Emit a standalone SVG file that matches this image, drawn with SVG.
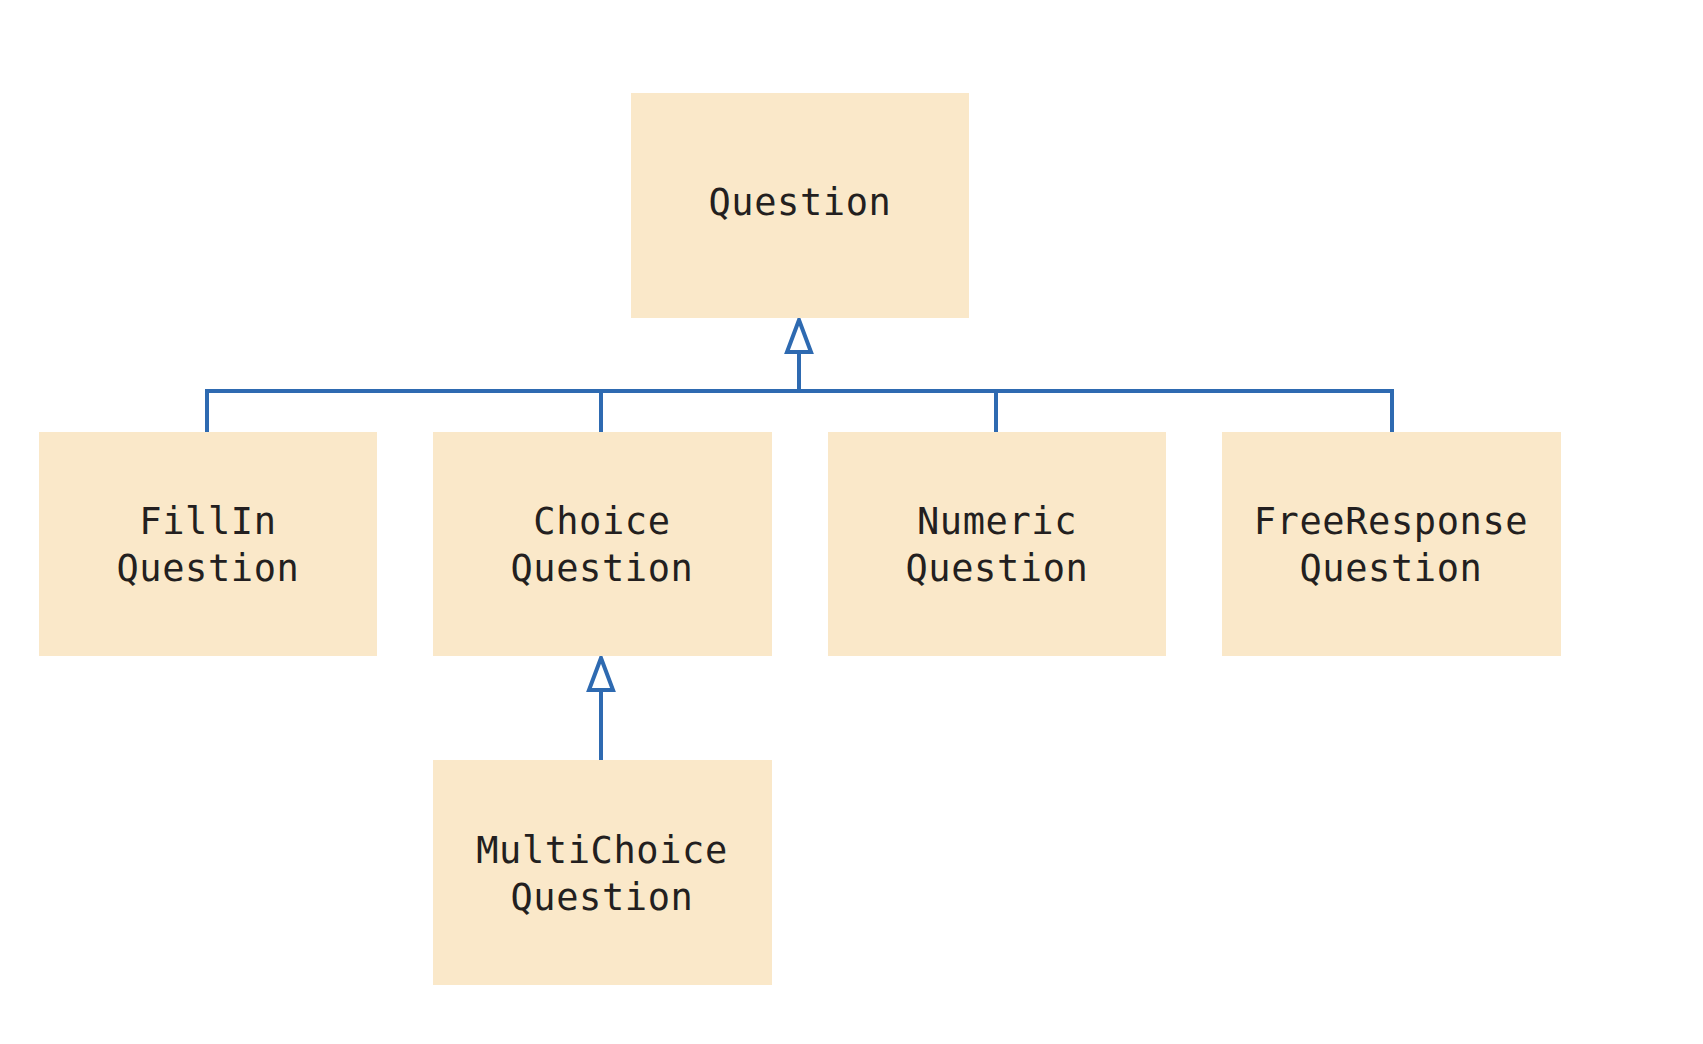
<svg xmlns="http://www.w3.org/2000/svg" width="1703" height="1044" viewBox="0 0 1703 1044">
  <style>
    .box { fill: #FAE8C9; }
    .label { font-family: "DejaVu Sans Mono", "Liberation Mono", monospace; font-size: 37px; letter-spacing: 0.6px; fill: #231F20; text-anchor: middle; }
    .wire { fill: none; stroke: #2E6AB1; stroke-width: 4; }
    .head { fill: #FFFFFF; stroke: #2E6AB1; stroke-width: 4; stroke-linejoin: miter; }
  </style>
  <rect width="1703" height="1044" fill="#FFFFFF"/>

  <g id="connectors">
    <!-- generalization bus from the four subclasses up to Question -->
    <polyline class="wire" points="207,432 207,391 1392,391 1392,432"/>
    <line class="wire" x1="601" y1="391" x2="601" y2="432"/>
    <line class="wire" x1="996" y1="391" x2="996" y2="432"/>
    <line class="wire" x1="799" y1="391" x2="799" y2="352"/>
    <polygon class="head" points="799,320 787,352 811,352"/>
    <!-- MultiChoiceQuestion to ChoiceQuestion -->
    <line class="wire" x1="601" y1="760" x2="601" y2="690"/>
    <polygon class="head" points="601,658 589,690 613,690"/>
  </g>

  <g id="question">
    <rect class="box" x="631" y="93" width="338" height="225"/>
    <text class="label" x="800" y="215">Question</text>
  </g>

  <g id="fillin-question">
    <rect class="box" x="39" y="432" width="338" height="224"/>
    <text class="label" x="208" y="534">FillIn</text>
    <text class="label" x="208" y="581">Question</text>
  </g>

  <g id="choice-question">
    <rect class="box" x="433" y="432" width="339" height="224"/>
    <text class="label" x="602" y="534">Choice</text>
    <text class="label" x="602" y="581">Question</text>
  </g>

  <g id="numeric-question">
    <rect class="box" x="828" y="432" width="338" height="224"/>
    <text class="label" x="997" y="534">Numeric</text>
    <text class="label" x="997" y="581">Question</text>
  </g>

  <g id="freeresponse-question">
    <rect class="box" x="1222" y="432" width="339" height="224"/>
    <text class="label" x="1391" y="534">FreeResponse</text>
    <text class="label" x="1391" y="581">Question</text>
  </g>

  <g id="multichoice-question">
    <rect class="box" x="433" y="760" width="339" height="225"/>
    <text class="label" x="602" y="863">MultiChoice</text>
    <text class="label" x="602" y="910">Question</text>
  </g>
</svg>
